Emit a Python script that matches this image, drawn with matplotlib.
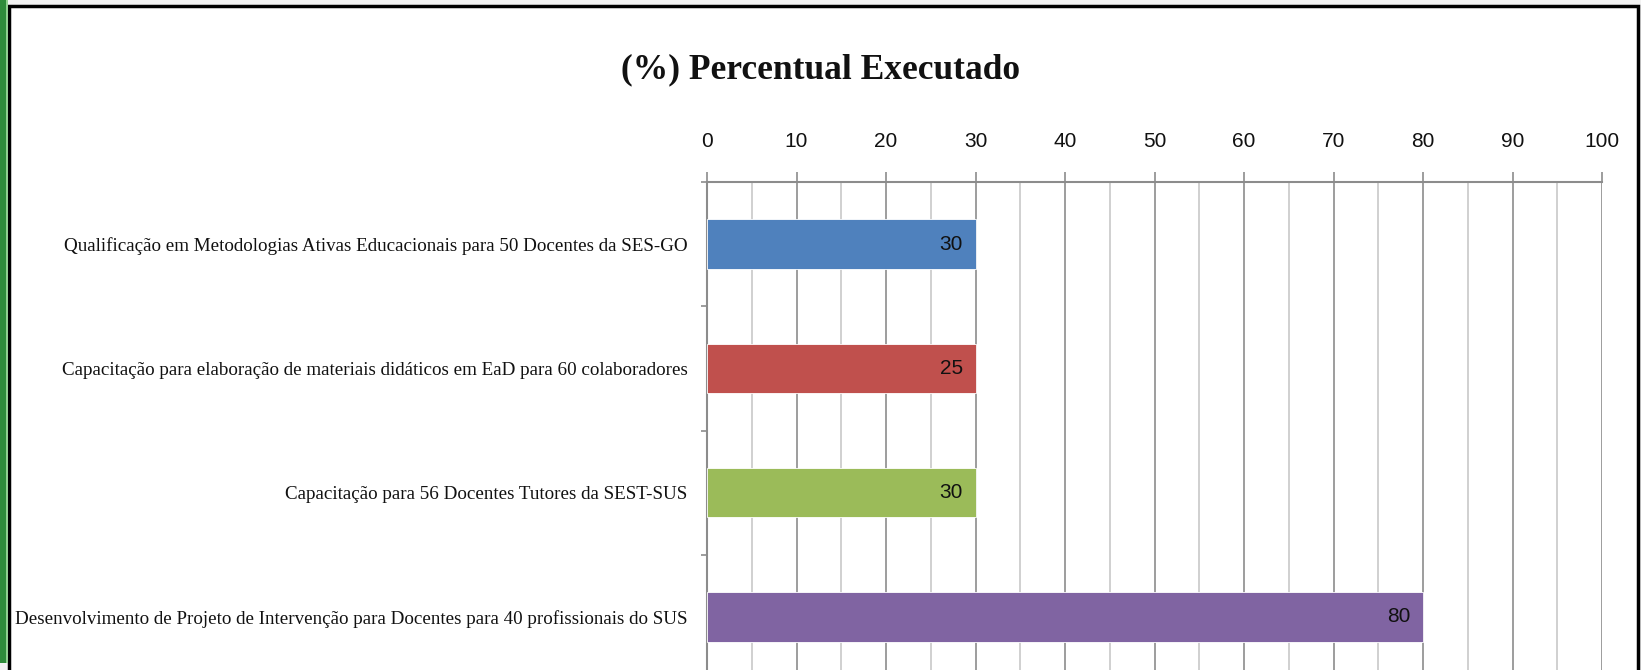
import matplotlib
matplotlib.use('Agg')
import numpy as np
from matplotlib import pyplot as plt
from matplotlib import font_manager
from matplotlib.patches import Rectangle
from matplotlib.ticker import MultipleLocator, FixedLocator


categories = [
    'Qualificação em Metodologias Ativas Educacionais para 50 Docentes da SES-GO',
    'Capacitação para elaboração de materiais didáticos em EaD para 60 colaboradores',
    'Capacitação para 56 Docentes Tutores da SEST-SUS',
    'Desenvolvimento de Projeto de Intervenção para Docentes para 40 profissionais do SUS',
]
bar_values = [30, 30, 30, 80]
value_labels = ['30', '25', '30', '80']
bar_colors = ['#4f81bd', '#c0504d', '#9bbb59', '#8064a2']
x_ticks = list(range(0, 101, 10))
title = '(%) Percentual Executado'


def pick_font(candidates):
    names = {f.name for f in font_manager.fontManager.ttflist}
    for c in candidates:
        if c in names:
            return c
    return candidates[-1]


serif = pick_font(['DejaVu Serif Condensed', 'Liberation Serif'])
narrow = pick_font(['Liberation Sans Narrow', 'DejaVu Sans Condensed', 'Liberation Sans'])

W, H = 1641, 670
fig = plt.figure(figsize=(W / 100, H / 100), dpi=100)
fig.patch.set_facecolor('#f2f2f2')


# frame pieces of the screenshot (pixels -> figure fraction)
def px_rect(x0, y0, x1, y1, **kw):
    fig.patches.append(Rectangle((x0 / W, 1 - y1 / H), (x1 - x0) / W, (y1 - y0) / H,
                                 transform=fig.transFigure, zorder=-10, **kw))


px_rect(9, 6, 1638, 690, facecolor='white', edgecolor='black', linewidth=2.5)
px_rect(0, 0, 7, 663, facecolor='#2e8b3a', edgecolor='none')
px_rect(6, 0, 8, 663, facecolor='#8fd08f', edgecolor='none')

# axes box: x 0..100 -> px 707..1602, categories -0.5..3.5 -> px 182..679
ax_l, ax_r, ax_t, ax_b = 707, 1602, 182, 679
ax = fig.add_axes([ax_l / W, 1 - ax_b / H, (ax_r - ax_l) / W, (ax_b - ax_t) / H])
ax.set_facecolor('none')

y = np.arange(len(categories))
ax.barh(y, bar_values, height=0.4, color=bar_colors, edgecolor='white',
        linewidth=0.6, zorder=3)
for yi, v, lbl in zip(y, bar_values, value_labels):
    ax.annotate(lbl, (v, yi), xytext=(-9, 0), textcoords='offset points',
                ha='right', va='center', fontsize=15, family=narrow,
                color='#111111', zorder=4)

ax.set_xlim(0, 100)
ax.set_ylim(3.5, -0.5)

ax.xaxis.tick_top()
ax.xaxis.set_major_locator(FixedLocator(x_ticks))
ax.xaxis.set_minor_locator(MultipleLocator(5))
ax.tick_params(axis='x', which='major', direction='out', length=7, width=1.2,
               color='#8c8c8c', pad=15, labelsize=15, labelcolor='#111111')
ax.tick_params(axis='x', which='minor', length=0)
for t in ax.get_xticklabels():
    t.set_family(narrow)

ax.grid(axis='x', which='major', color='#8c8c8c', linewidth=1.2, zorder=0)
ax.grid(axis='x', which='minor', color='#c8c8c8', linewidth=1.2, zorder=0)

ax.set_yticks(y)
ax.set_yticklabels(categories, family=serif, fontsize=13.7, color='#111111')
ax.yaxis.set_minor_locator(FixedLocator([-0.5, 0.5, 1.5, 2.5, 3.5]))
ax.tick_params(axis='y', which='major', length=0, pad=14)
ax.tick_params(axis='y', which='minor', direction='out', length=4, width=1.2,
               color='#8c8c8c')

for s in ['right', 'bottom']:
    ax.spines[s].set_visible(False)
for s in ['top', 'left']:
    ax.spines[s].set_color('#8c8c8c')
    ax.spines[s].set_linewidth(1.5)

fig.text(821 / W, 1 - 70 / H, title, ha='center', va='center', fontsize=25.5,
         fontweight='bold', family=serif, color='#111111')

fig.savefig('out.png', dpi=100, facecolor=fig.get_facecolor())
